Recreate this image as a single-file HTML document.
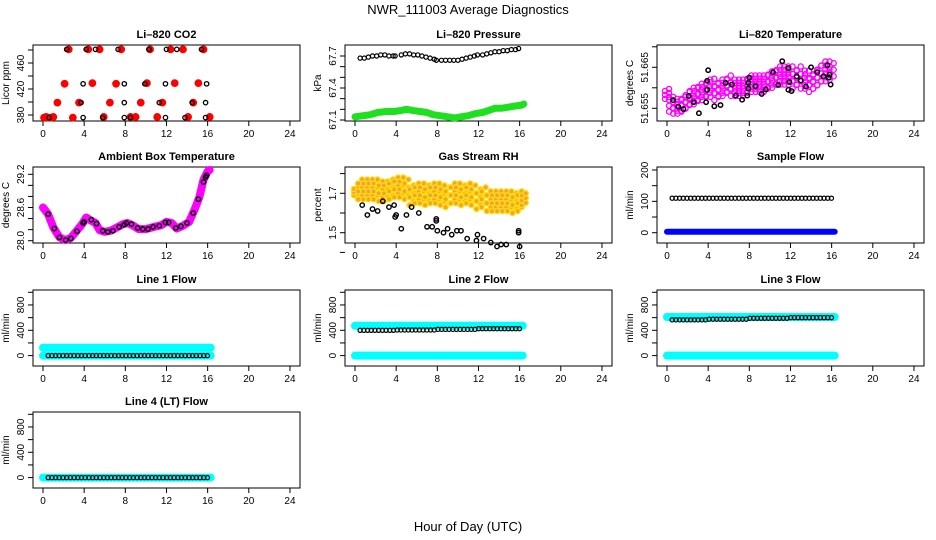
<!DOCTYPE html>
<html><head><meta charset="utf-8">
<style>
html,body{margin:0;padding:0;background:#fff;}
svg{display:block;font-family:"Liberation Sans",sans-serif;}
</style></head>
<body>
<svg id="chart" width="936" height="540" viewBox="0 0 936 540" xmlns="http://www.w3.org/2000/svg">
<rect width="936" height="540" fill="#fff"/>
<text x="468" y="14" text-anchor="middle" font-size="13">NWR_111003  Average Diagnostics</text>
<text x="468" y="531" text-anchor="middle" font-size="13">Hour of Day (UTC)</text>
</svg>
<script>
// ---- data ----
const co2RedT=[0.1,0.3,0.5,0.8,1.0,1.4,2.1,2.5,2.9,3.5,4.4,4.8,5.5,5.9,6.5,7.1,7.6,8.5,9.0,9.5,10.1,10.4,11.1,11.6,12.4,12.8,13.6,14.1,14.6,15.1,15.6,16.2];
const co2RedV=[376,377,376,376,377,399,428,481,376,399,481,429,481,377,399,428,481,377,377,399,429,481,377,399,481,429,481,377,399,429,481,377];
const co2BlackT=[0.6,2.3,3.9,3.9,3.7,4.2,5.1,5.8,7.3,7.9,7.9,7.9,8.5,9.9,10.3,11.3,11.9,11.9,12.0,13.0,13.8,14.5,15.4,15.9,15.8,15.8];
const co2BlackV=[376,481,376,428,399,481,481,376,481,428,399,376,376,428,481,399,428,376,481,481,376,399,481,428,399,376];

const prGreenT=[0,0.8,1.5,2.2,3,3.8,4.5,5,5.6,6.3,7,7.6,8.3,9,9.7,10.3,11,11.7,12.4,13,13.6,14.2,14.9,15.5,16.2,16.4];
const prGreenV=[67.13,67.14,67.15,67.17,67.18,67.18,67.19,67.20,67.19,67.18,67.17,67.15,67.14,67.13,67.12,67.13,67.14,67.16,67.17,67.19,67.21,67.21,67.22,67.23,67.24,67.25];
const prBlackT=[0.5,0.9,1.3,1.7,2.1,2.5,2.9,3.3,3.7,3.9,4.5,4.9,5.3,5.7,6.1,6.5,6.9,7.3,7.7,7.9,8.4,8.8,9.2,9.6,10.0,10.4,10.8,11.2,11.6,11.9,12.4,12.8,13.2,13.6,14.0,14.4,14.8,15.2,15.6,15.9];
const prBlackV=[67.68,67.68,67.69,67.70,67.70,67.71,67.71,67.70,67.70,67.70,67.71,67.72,67.72,67.71,67.71,67.70,67.69,67.68,67.67,67.66,67.66,67.66,67.66,67.66,67.66,67.67,67.68,67.69,67.70,67.71,67.71,67.72,67.73,67.74,67.74,67.75,67.75,67.76,67.76,67.77];

const tempT=[0,0.4,0.8,1.2,1.6,2.0,2.4,2.8,3.2,3.6,4.0,4.4,4.8,5.2,5.6,6.0,6.4,6.8,7.2,7.6,8.0,8.4,8.8,9.2,9.6,10.0,10.4,10.8,11.2,11.6,12.0,12.4,12.8,13.2,13.6,14.0,14.4,14.8,15.2,15.6,16.0];
const tempMid=[51.6585,51.656,51.6555,51.6555,51.656,51.657,51.658,51.658,51.659,51.659,51.660,51.660,51.659,51.660,51.660,51.661,51.660,51.660,51.660,51.660,51.661,51.661,51.661,51.661,51.661,51.662,51.662,51.663,51.663,51.663,51.663,51.662,51.663,51.662,51.662,51.661,51.662,51.663,51.664,51.664,51.664];
const tempSpread=[0.0012,0.0018,0.0018,0.0018,0.0018,0.002,0.002,0.002,0.002,0.002,0.002,0.0022,0.002,0.002,0.002,0.002,0.002,0.002,0.002,0.002,0.002,0.002,0.002,0.002,0.002,0.002,0.002,0.0022,0.0022,0.0022,0.0022,0.0022,0.0022,0.0022,0.0022,0.002,0.0022,0.0024,0.0024,0.0024,0.002];
const tempBlackT=[0.6,1.1,1.6,2.1,2.6,3.1,3.8,3.9,3.9,4.0,4.6,5.2,5.7,6.3,6.7,7.3,7.8,7.9,7.9,8.0,8.6,9.2,9.6,10.3,10.8,11.2,11.8,11.8,11.9,12.1,12.6,13.0,13.5,14.0,14.6,15.2,15.6,15.7,15.8,15.9];
const tempBlackV=[51.657,51.6554,51.6548,51.658,51.6565,51.6538,51.6565,51.6595,51.6617,51.6643,51.6555,51.6558,51.6612,51.6608,51.6581,51.6571,51.6581,51.6598,51.6612,51.6625,51.6604,51.6585,51.6596,51.6638,51.6607,51.6665,51.6595,51.6648,51.6614,51.6592,51.6628,51.6618,51.6603,51.665,51.6638,51.6628,51.6655,51.6625,51.6632,51.6608];

const ambT=[0,0.5,1.0,1.6,2.2,2.7,3.2,3.8,4.2,4.6,5.1,5.5,6.0,6.6,7.2,7.8,8.2,8.7,9.3,10.0,10.8,11.5,12.0,12.5,13.0,13.6,14.2,14.7,15.2,15.6,16.0,16.2];
const ambV=[28.60,28.48,28.24,28.06,28.01,28.05,28.16,28.30,28.42,28.37,28.32,28.19,28.16,28.18,28.24,28.30,28.32,28.28,28.21,28.21,28.25,28.28,28.34,28.32,28.22,28.27,28.34,28.55,28.79,29.10,29.25,29.28];
const ambBlackT=[0.5,1.1,1.6,2.2,2.7,3.3,3.9,4.0,4.7,5.2,5.8,6.3,6.8,7.4,7.9,8.1,8.6,9.2,9.7,10.2,10.7,11.3,11.9,12.2,12.9,13.4,14.0,14.6,15.1,15.6,15.8,15.9];
const ambBlackV=[28.48,28.22,28.06,28.01,28.04,28.17,28.32,28.34,28.38,28.31,28.18,28.16,28.18,28.25,28.29,28.32,28.30,28.23,28.21,28.21,28.25,28.27,28.33,28.33,28.23,28.26,28.32,28.50,28.75,29.06,29.15,29.18];

const rhT=[0.1,0.5,1,1.5,2,2.5,3,3.5,4,4.5,5,5.5,6,6.5,7,7.5,8,8.5,9,9.5,10,10.5,11,11.5,12,12.5,13,13.5,14,14.5,15,15.5,16,16.4];
const rhMid=[1.71,1.72,1.72,1.72,1.72,1.71,1.71,1.72,1.73,1.73,1.72,1.69,1.70,1.70,1.69,1.70,1.70,1.69,1.68,1.70,1.70,1.69,1.70,1.69,1.67,1.68,1.66,1.66,1.66,1.66,1.66,1.65,1.66,1.67];
const rhSpread=[0.02,0.05,0.05,0.05,0.05,0.05,0.05,0.05,0.05,0.05,0.05,0.05,0.05,0.05,0.05,0.05,0.05,0.05,0.05,0.05,0.05,0.05,0.05,0.05,0.05,0.05,0.05,0.05,0.05,0.05,0.05,0.05,0.05,0.03];
const rhBlackT=[0.7,1.2,1.7,2.2,2.7,3.3,3.8,3.9,4.0,4.5,5.0,5.5,6.2,7.0,7.5,7.9,7.9,8.0,8.6,9.0,9.4,9.9,10.3,10.9,11.8,11.9,12.5,13.2,13.8,14.2,14.7,15.9,15.9,16.0];
const rhBlackV=[1.64,1.59,1.62,1.61,1.66,1.63,1.64,1.58,1.59,1.52,1.59,1.63,1.60,1.53,1.53,1.57,1.56,1.51,1.50,1.52,1.49,1.51,1.51,1.47,1.46,1.49,1.47,1.45,1.43,1.44,1.44,1.50,1.51,1.43];

const flowT=[0,4,8,12,16.3];
const sampleBlueV=[3,3,3,3,3];
const sampleBlackV=[110,110,110,110,110];
const line1CyanHiV=[125,125,125,125,125];
const line1CyanLoV=[0,0,0,0,0];
const line1BlackV=[0,0,0,0,0];
const line2CyanHiV=[470,470,470,470,470];
const line2CyanLoV=[0,0,0,0,0];
const line2BlackV=[400,405,415,425,430];
const line3CyanHiV=[610,610,610,610,610];
const line3CyanLoV=[0,0,0,0,0];
const line3BlackV=[565,575,590,600,600];
const line4CyanV=[0,0,0,0,0];
const line4BlackV=[0,0,0,0,0];

const xTicks=[0,4,8,12,16,20,24];

// ---- drawing ----
const NS="http://www.w3.org/2000/svg";
const svg=document.getElementById('chart');
function el(tag,attrs,parent){const e=document.createElementNS(NS,tag);for(const k in attrs)e.setAttribute(k,attrs[k]);(parent||svg).appendChild(e);return e;}
const rowTop=[45,167,290,412];

function makePanel(name,title,ylab,col,row,v0,py0,v1,py1,ticks,labels){
  const g=el('g',{});
  
  
  const cx=col*312, top=rowTop[row], bot=top+76;
  const L=33+cx, R=300+cx;
  const X=h=>43+cx+h*10.29;
  const Y=v=>top+py0+(v-v0)*(py1-py0)/(v1-v0);
  const t=el('text',{x:(L+R)/2,y:top-7,'text-anchor':'middle','font-size':'11','font-weight':'bold'},g);
  t.textContent=title;
  
  
  const b=el('rect',{x:L,y:top,width:R-L,height:76,fill:'none',stroke:'#000','stroke-width':1},g);
  
  
  const xa=el('g',{},g);
  
  
  el('line',{x1:X(0),x2:X(24),y1:bot,y2:bot,stroke:'#000'},xa);
  xTicks.forEach(h=>{
    el('line',{x1:X(h),x2:X(h),y1:bot,y2:bot+5,stroke:'#000'},xa);
    const tx=el('text',{x:X(h),y:bot+16,'text-anchor':'middle','font-size':'10'},xa);
    tx.textContent=h;
  });
  const ya=el('g',{},g);
  
  
  ticks.forEach(v=>{
    el('line',{x1:L-5,x2:L,y1:Y(v),y2:Y(v),stroke:'#000'},ya);
  });
  labels.forEach(v=>{
    const tx=el('text',{x:L-9,y:Y(v),'text-anchor':'middle','font-size':'10',transform:`rotate(-90 ${L-9} ${Y(v)})`},ya);
    tx.textContent=v;
  });
  const yl=el('text',{x:L-24,y:(top+bot)/2,'text-anchor':'middle','font-size':'10',transform:`rotate(-90 ${L-24} ${(top+bot)/2})`},g);
  yl.textContent=ylab;
  
  
  return {g,X,Y};
}
function pts(p,ts,vs,stroke,fill,r,sw,nm,dx){
  const g=el('g',{},p.g);
  
  
  ts.forEach((t,i)=>{
    el('circle',{cx:p.X(t)+(dx||0),cy:p.Y(vs[i]),r:r,fill:fill,stroke:stroke,'stroke-width':sw},g);
  });
}
function band(p,ts,vs,color,w,nm){
  const d=ts.map((t,i)=>(i?'L':'M')+p.X(t).toFixed(1)+' '+p.Y(vs[i]).toFixed(1)).join(' ');
  const e=el('path',{d:d,fill:'none',stroke:color,'stroke-width':w,'stroke-linecap':'round','stroke-linejoin':'round'},p.g);
  
  
}
function cloud(p,ts,mid,spr,stroke,fill,nm){
  const g=el('g',{},p.g);
  
  
  const ks=[-1,-0.6,-0.2,0.2,0.6,1];
  ts.forEach((t,i)=>{
    ks.forEach((k,j)=>{
      el('circle',{cx:p.X(t)+(j%2?2:-2),cy:p.Y(mid[i]+k*spr[i]),r:2.6,fill:fill,stroke:stroke,'stroke-width':1.3},g);
    });
  });
}
function range(a,b,s){const r=[];for(let v=a;v<=b+1e-9;v+=s)r.push(+v.toFixed(4));return r;}
const blackTimes=range(0.5,16,0.36);

// CO2
let p=makePanel('co2','Li\u2013820 CO2','Licor ppm',0,0,380,70,480,5,[380,400,420,440,460,480],[380,420,460]);
pts(p,co2RedT,co2RedV,'#f00','#f00',3.4,1,'co2-red-points',0);
pts(p,co2BlackT,co2BlackV,'#000','none',2.2,1.3,'co2-black-points',0);
// Pressure
p=makePanel('pressure','Li\u2013820 Pressure','kPa',1,0,67.1,75,67.7,11,[67.1,67.2,67.3,67.4,67.5,67.6,67.7],['67.1','67.4','67.7']);
band(p,prGreenT,prGreenV,'#1ee01e',7,'pressure-green-series');
pts(p,prBlackT,prBlackV,'#000','none',2.1,1.2,'pressure-black-points',0);
// Temperature
p=makePanel('li820-temp','Li\u2013820 Temperature','degrees C',2,0,51.655,63.3,51.665,22.3,[51.655,51.66,51.665,51.67],['51.655','51.665']);
cloud(p,tempT,tempMid,tempSpread,'#f0f','none','temp-magenta-cloud');
pts(p,tempBlackT,tempBlackV,'#000','none',2.2,1.5,'temp-black-points',0);
// Ambient
p=makePanel('ambient','Ambient Box Temperature','degrees C',0,1,28.0,73.7,29.2,7.3,[28.0,28.2,28.4,28.6,28.8,29.0,29.2],['28.0','28.6','29.2']);
band(p,ambT,ambV,'#f0f',8,'ambient-magenta-series');
pts(p,ambBlackT,ambBlackV,'#000','none',2.2,1.4,'ambient-black-points',0);
// RH
p=makePanel('rh','Gas Stream RH','percent',1,1,1.5,65.7,1.7,26.3,[1.4,1.5,1.6,1.7,1.8],['1.5','1.7']);
cloud(p,rhT,rhMid,rhSpread,'#ffe000','#f4a040','rh-yellow-cloud');
pts(p,rhBlackT,rhBlackV,'#000','none',2.2,1.4,'rh-black-points',0);
// Sample flow
p=makePanel('sample-flow','Sample Flow','ml/min',2,1,0,65.7,200,3,[0,50,100,150,200],[0,100,200]);
band(p,flowT,sampleBlueV,'#0000ff',6,'sample-blue-series');
pts(p,blackTimes,blackTimes.map((t,i)=>sampleBlackV[Math.min(4,Math.floor(t/4))]),'#000','none',2.1,1.2,'sample-black-points',0);
// Line flows
const flowTicks=[0,200,400,600,800,1000];
function flowPanel(name,title,col,row,hi,lo,blk){
  const q=makePanel(name,title,'ml/min',col,row,0,65.6,1000,2.3,flowTicks,[0,400,800]);
  if(hi) band(q,flowT,hi,'#00ffff',8,name+'-cyan-high');
  band(q,flowT,lo,'#00ffff',8,name+'-cyan-low');
  pts(q,blackTimes,blackTimes.map(t=>blk[Math.min(4,Math.floor(t/4))]),'#000','none',2.1,1.2,name+'-black-points',0);
}
flowPanel('line1-flow','Line 1 Flow',0,2,line1CyanHiV,line1CyanLoV,line1BlackV);
flowPanel('line2-flow','Line 2 Flow',1,2,line2CyanHiV,line2CyanLoV,line2BlackV);
flowPanel('line3-flow','Line 3 Flow',2,2,line3CyanHiV,line3CyanLoV,line3BlackV);
flowPanel('line4-flow','Line 4 (LT) Flow',0,3,null,line4CyanV,line4BlackV);
</script>
</body></html>
